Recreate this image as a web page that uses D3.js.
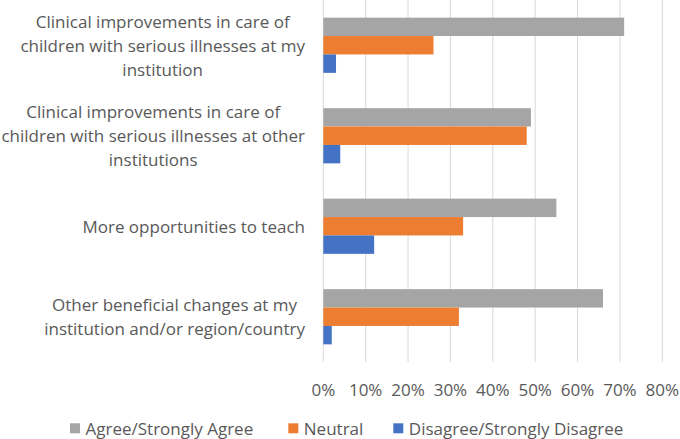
<!DOCTYPE html>
<html>
<head>
<meta charset="utf-8">
<script src="https://cdn.jsdelivr.net/npm/d3@7"></script>
<style>
  body { margin: 0; background: #fff; }
  text { font-family: "Open Sans", sans-serif; fill: #595959; }
</style>
</head>
<body>
<div id="chart"></div>
<script>
// Data
let categories = [
  ["Clinical improvements in care of", "children with serious illnesses at my", "institution"],
  ["Clinical improvements in care of", "children with serious illnesses at other", "institutions"],
  ["More opportunities to teach"],
  ["Other beneficial changes at my", "institution and/or region/country"]
];
let seriesNames = ["Agree/Strongly Agree", "Neutral", "Disagree/Strongly Disagree"];
let agree    = [71, 49, 55, 66];
let neutral  = [26, 48, 33, 32];
let disagree = [3, 4, 12, 2];
let ticks = [0, 10, 20, 30, 40, 50, 60, 70, 80];

let colors = ["#A5A5A5", "#ED7D31", "#4472C4"];
let series = [agree, neutral, disagree];

let width = 680, height = 439;
let margin = {left: 323.3, right: 17.7, top: 0, bottom: 77};
let plotW = width - margin.left - margin.right;
let plotH = height - margin.top - margin.bottom;
let fontSize = "17px";

let svg = d3.select("#chart").append("svg")
  .attr("width", width).attr("height", height);

let g = svg.append("g").attr("transform", `translate(${margin.left},${margin.top})`);

let x = d3.scaleLinear().domain([0, 80]).range([0, plotW]);
let y = d3.scaleBand().domain(d3.range(categories.length)).range([0, plotH]).paddingInner(0.39).paddingOuter(0.195);
let ySub = d3.scaleBand().domain(d3.range(series.length)).range([0, y.bandwidth()]);

// gridlines
g.selectAll(".grid")
  .data(ticks)
  .enter().append("line")
  .attr("x1", d => x(d)).attr("x2", d => x(d))
  .attr("y1", 0).attr("y2", plotH)
  .style("stroke", "#D9D9D9").style("stroke-width", 1);

// bars
series.forEach((vals, si) => {
  g.selectAll(".bar" + si)
    .data(vals)
    .enter().append("rect")
    .attr("x", 0)
    .attr("y", (d, i) => y(i) + ySub(si))
    .attr("width", d => x(d))
    .attr("height", ySub.bandwidth())
    .style("fill", colors[si]);
});

// x tick labels
g.selectAll(".tick")
  .data(ticks)
  .enter().append("text")
  .attr("x", d => x(d))
  .attr("y", plotH + 34)
  .attr("text-anchor", "middle")
  .style("font-size", fontSize)
  .text(d => d + "%");

// category labels: block right-aligned, lines centered within block
let lineH = 24;
categories.forEach((lines, i) => {
  let grp = svg.append("g");
  let texts = grp.selectAll("text")
    .data(lines)
    .enter().append("text")
    .attr("y", (d, j) => y(i) + y.bandwidth() / 2 + (j - (lines.length - 1) / 2) * lineH + 6.5)
    .attr("text-anchor", "middle")
    .style("font-size", fontSize)
    .text(d => d);
  let maxW = d3.max(texts.nodes(), n => n.getComputedTextLength());
  texts.attr("x", 305 - maxW / 2);
});

// legend
let legendX = [70, 288.3, 393.3];
let legend = svg.selectAll(".legend")
  .data(seriesNames)
  .enter().append("g")
  .attr("transform", (d, i) => `translate(${legendX[i]},423.3)`);
legend.append("rect")
  .attr("width", 10).attr("height", 10)
  .style("fill", (d, i) => colors[i]);
legend.append("text")
  .attr("x", 15.5).attr("y", 11.5)
  .style("font-size", fontSize)
  .text(d => d);
</script>
</body>
</html>
